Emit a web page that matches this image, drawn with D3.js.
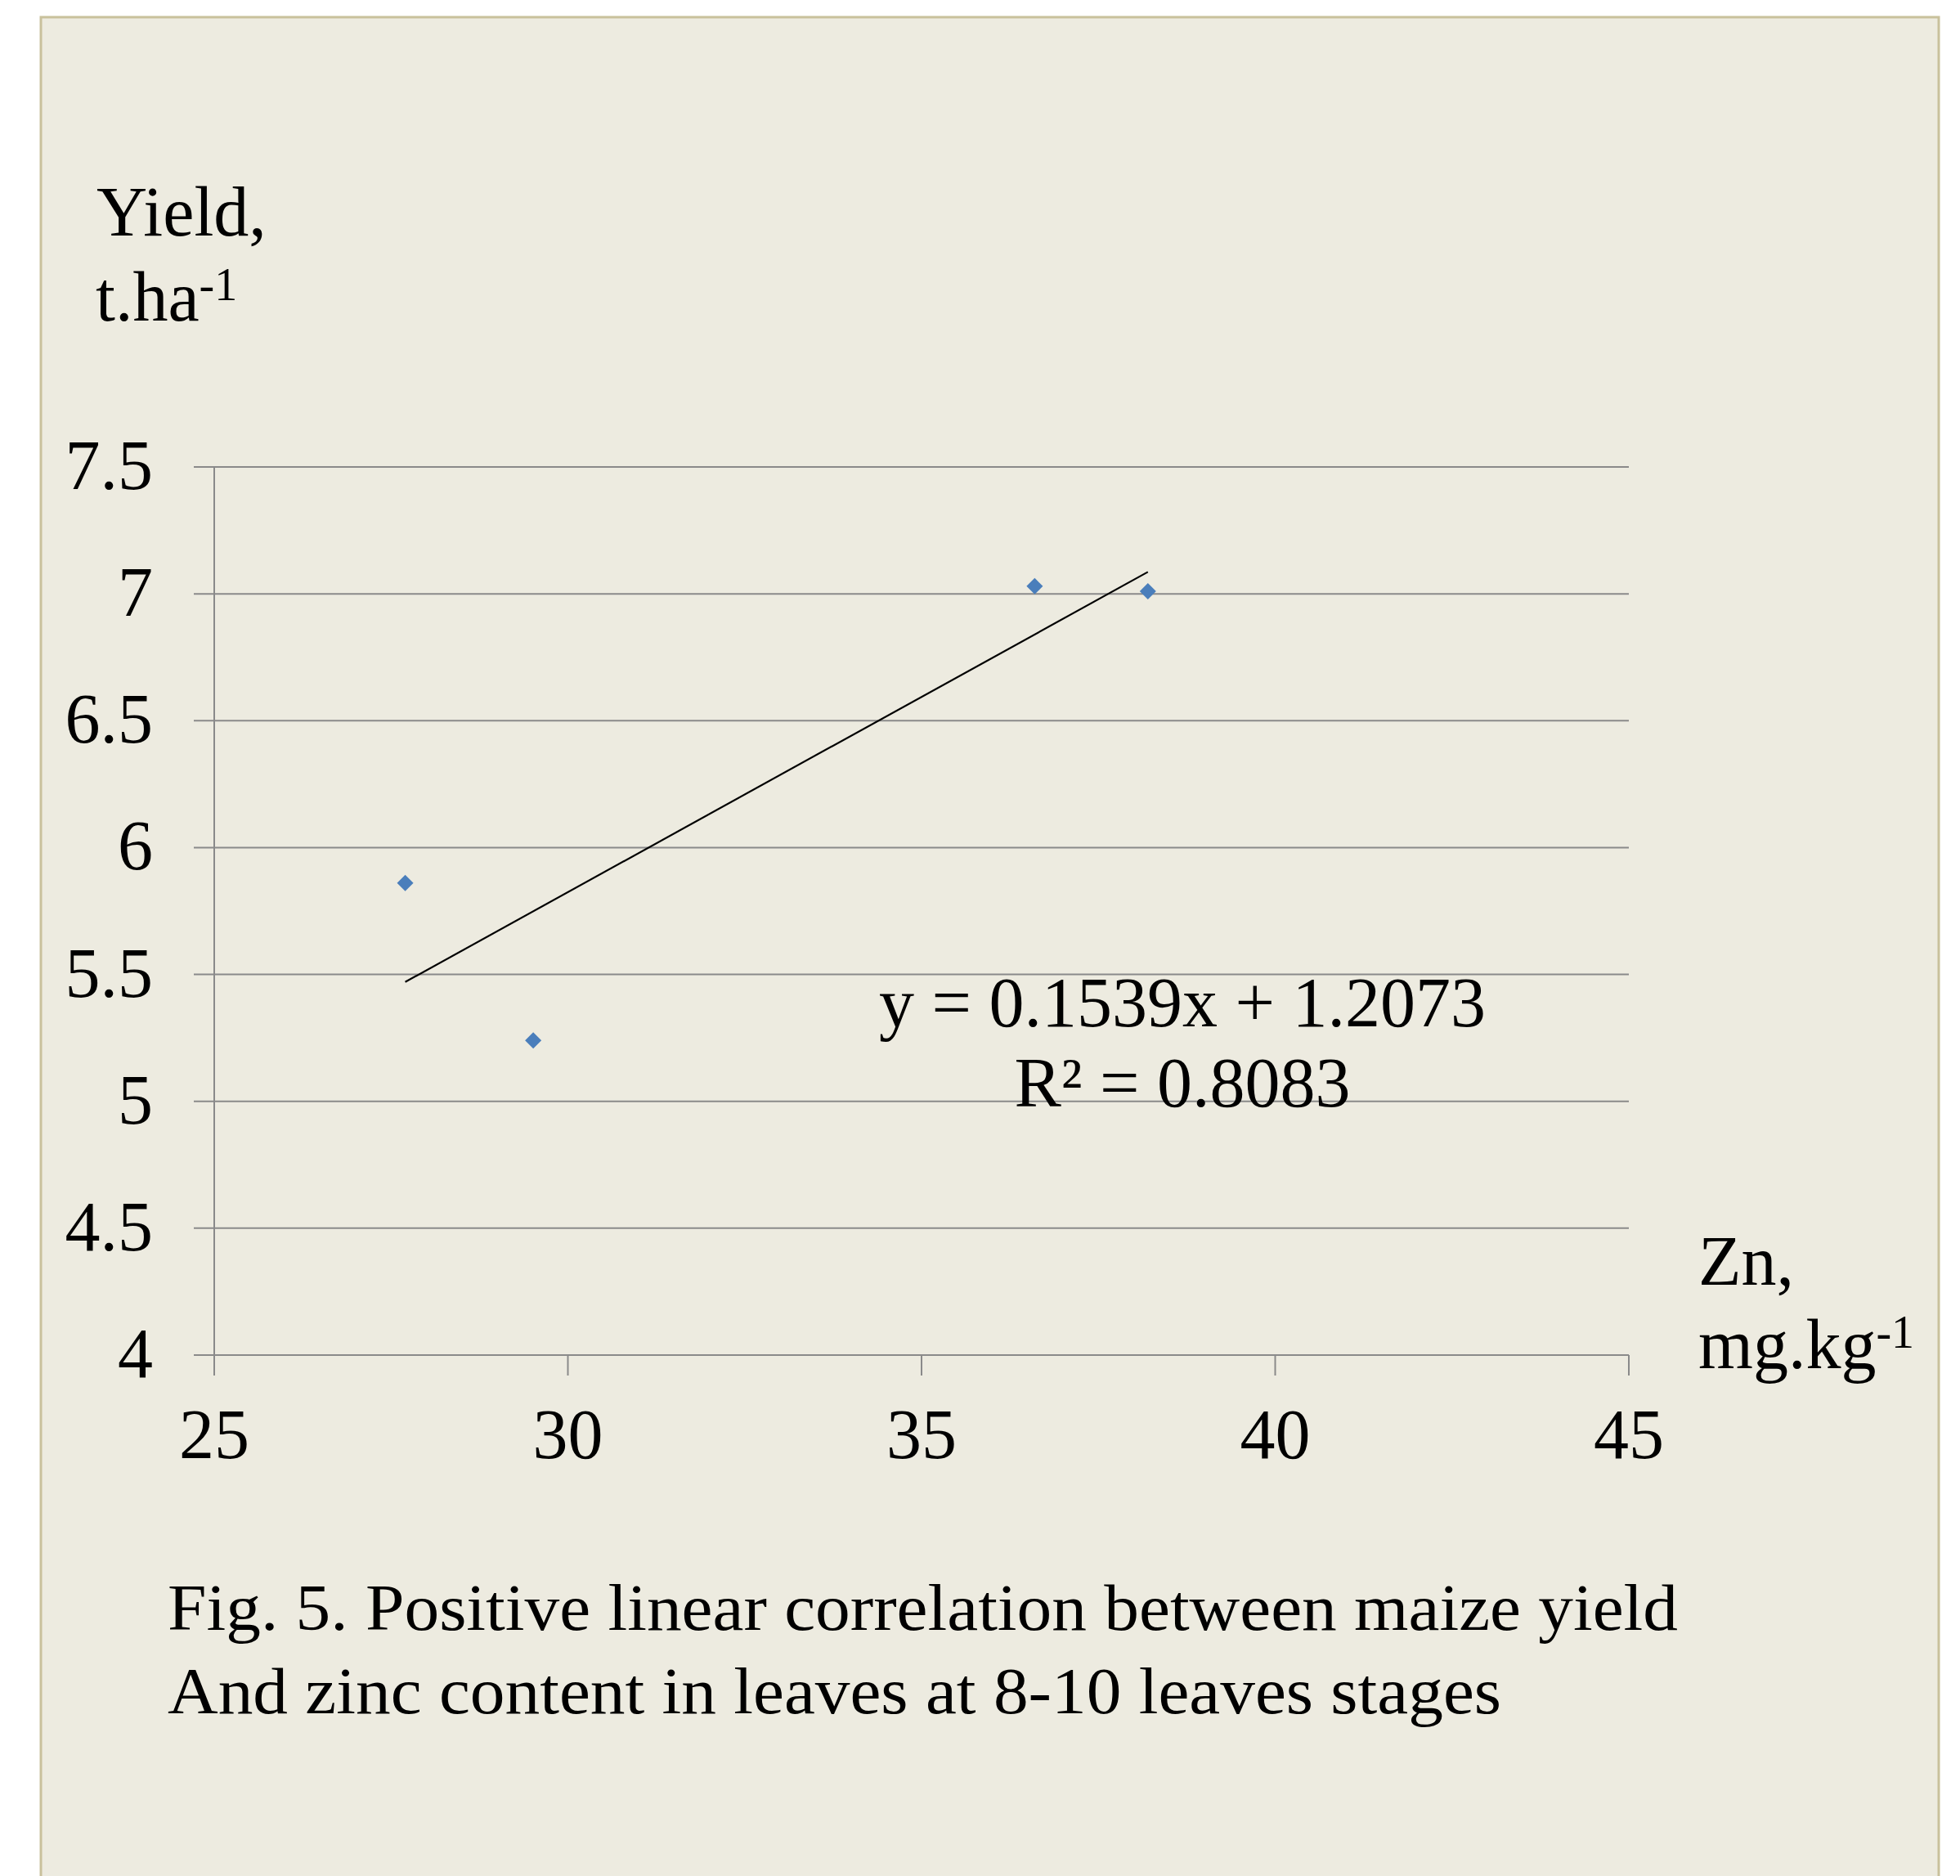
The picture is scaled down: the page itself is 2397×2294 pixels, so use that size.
<!DOCTYPE html>
<html>
<head>
<meta charset="utf-8">
<script src="https://cdn.jsdelivr.net/npm/d3@7"></script>
<style>
  html, body { margin: 0; padding: 0; background: #ffffff; }
  svg { display: block; }
  text { font-family: "Liberation Serif", "Times New Roman", serif; fill: #000; }
</style>
</head>
<body>
<svg id="chart" width="2397" height="2294"></svg>
<script>
// ---- data ----
const zn = [27.70, 29.51, 36.60, 38.20];
const yieldVals = [5.86, 5.24, 7.03, 7.01];
const xTicks = [25, 30, 35, 40, 45];
const yTicks = [4, 4.5, 5, 5.5, 6, 6.5, 7, 7.5];
const slope = 0.1539, intercept = 1.2073;
const equationText = "y = 0.1539x + 1.2073";
const r2Text = "R² = 0.8083";
const captionLines = [
  "Fig. 5. Positive linear correlation between maize yield",
  "And zinc content in leaves at 8-10 leaves stages"
];

const svg = d3.select("#chart");

// panel
svg.append("rect")
  .attr("x", 50).attr("y", 21)
  .attr("width", 2321).attr("height", 2400)
  .attr("fill", "#edebe0")
  .attr("stroke", "#c9c19c").attr("stroke-width", 3);

const x = d3.scaleLinear().domain([25, 45]).range([262, 1992]);
const y = d3.scaleLinear().domain([4, 7.5]).range([1657, 571]);

const gridColor = "#8a8a8a";

// horizontal gridlines (with tick extension on the left)
svg.append("g").selectAll("line").data(yTicks).join("line")
  .attr("x1", 237).attr("x2", x(45))
  .attr("y1", d => y(d)).attr("y2", d => y(d))
  .attr("stroke", gridColor).attr("stroke-width", 2);

// y axis line
svg.append("line")
  .attr("x1", x(25)).attr("x2", x(25))
  .attr("y1", y(7.5)).attr("y2", y(4))
  .attr("stroke", gridColor).attr("stroke-width", 2);

// x ticks
svg.append("g").selectAll("line").data(xTicks).join("line")
  .attr("x1", d => x(d)).attr("x2", d => x(d))
  .attr("y1", y(4)).attr("y2", y(4) + 25)
  .attr("stroke", gridColor).attr("stroke-width", 2);

// y tick labels
svg.append("g").selectAll("text").data(yTicks).join("text")
  .attr("x", 187).attr("y", d => y(d) + 27)
  .attr("text-anchor", "end")
  .attr("font-size", 86)
  .text(d => d);

// x tick labels
svg.append("g").selectAll("text").data(xTicks).join("text")
  .attr("x", d => x(d)).attr("y", 1783)
  .attr("text-anchor", "middle")
  .attr("font-size", 86)
  .text(d => d);

// trendline
const xMin = d3.min(zn), xMax = d3.max(zn);
svg.append("line")
  .attr("x1", x(xMin)).attr("y1", y(slope * xMin + intercept))
  .attr("x2", x(xMax)).attr("y2", y(slope * xMax + intercept))
  .attr("stroke", "#000").attr("stroke-width", 2.2);

// points (diamonds)
const diamond = d3.symbol().type(d3.symbolSquare).size(200);
svg.append("g").selectAll("path").data(zn.map((v, i) => [v, yieldVals[i]])).join("path")
  .attr("d", diamond)
  .attr("transform", d => `translate(${x(d[0])},${y(d[1])}) rotate(45)`)
  .attr("fill", "#4a7ebb");

// equation
svg.append("text").attr("x", 1446).attr("y", 1255)
  .attr("text-anchor", "middle").attr("font-size", 86).text(equationText);
svg.append("text").attr("x", 1446).attr("y", 1353)
  .attr("text-anchor", "middle").attr("font-size", 86).text(r2Text);

// y axis title
svg.append("text").attr("x", 118).attr("y", 288).attr("font-size", 86).text("Yield,");
const yt = svg.append("text").attr("x", 117).attr("y", 392).attr("font-size", 86);
yt.append("tspan").text("t.ha");
yt.append("tspan").attr("font-size", 56).attr("dy", -25).text("-1");

// x axis title
svg.append("text").attr("x", 2077).attr("y", 1571).attr("font-size", 86).text("Zn,");
const xt = svg.append("text").attr("x", 2077).attr("y", 1673).attr("font-size", 86);
xt.append("tspan").text("mg.kg");
xt.append("tspan").attr("font-size", 56).attr("dy", -25).text("-1");

// caption (reference font is wider than Liberation Serif: stretch to measured widths)
const captionWidths = [1847, 1631];
svg.append("g").selectAll("text").data(captionLines).join("text")
  .attr("x", 205).attr("y", (d, i) => 1993 + i * 102)
  .attr("font-size", 80)
  .attr("textLength", (d, i) => captionWidths[i])
  .attr("lengthAdjust", "spacingAndGlyphs")
  .text(d => d);
</script>
</body>
</html>
